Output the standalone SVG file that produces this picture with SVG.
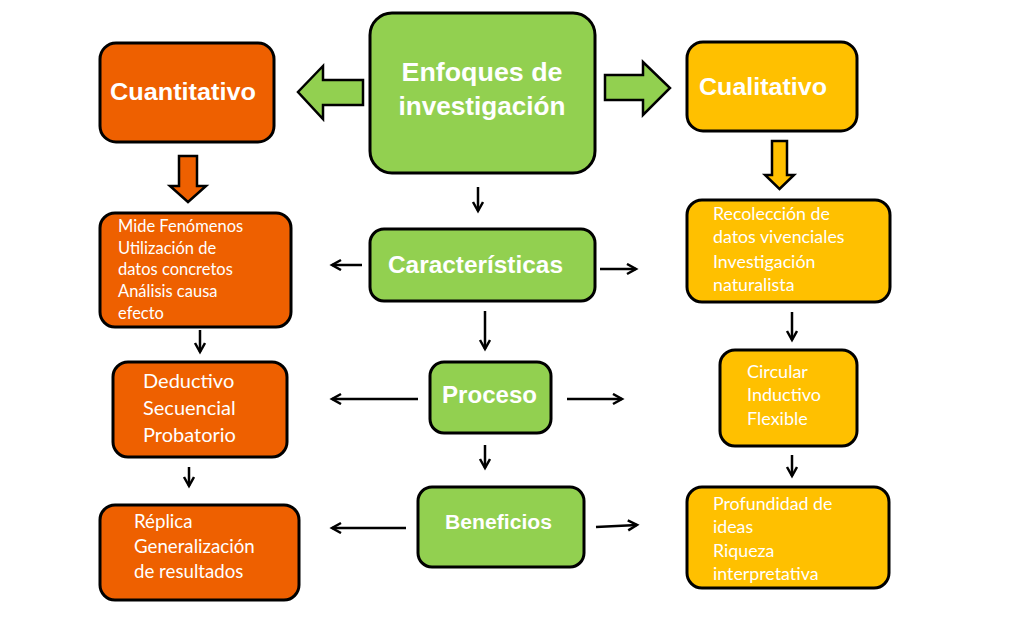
<svg xmlns="http://www.w3.org/2000/svg" width="1020" height="630" viewBox="0 0 1020 630">
<defs>
<style>
.box{stroke:#000;stroke-width:3}
.or{fill:#EE6000}
.gr{fill:#92D050}
.ye{fill:#FFC000}
.blk{stroke:#000;stroke-width:2.5}
.title{font-family:"Liberation Sans",Arial,sans-serif;font-weight:bold;fill:#fff;text-anchor:middle}
.body{font-family:Lato,"Liberation Sans",sans-serif;fill:#fff}
.ln{stroke:#000;stroke-width:2.5;fill:none;marker-end:url(#ah)}
</style>
<marker id="ah" markerUnits="userSpaceOnUse" markerWidth="14" markerHeight="14" refX="11" refY="6" orient="auto">
<path d="M2,1 L11,6 L2,11" fill="none" stroke="#000" stroke-width="2.5"/>
</marker>
</defs>
<rect width="1020" height="630" fill="#fff"/>

<g id="enfoques">
<rect class="box gr" x="370" y="13" width="225" height="160" rx="22"/>
<text class="title" x="482" y="81" font-size="26" textLength="161" lengthAdjust="spacingAndGlyphs">Enfoques de</text>
<text class="title" x="482" y="115" font-size="26" textLength="167" lengthAdjust="spacingAndGlyphs">investigación</text>
</g>
<g id="cuantitativo">
<rect class="box or" x="100" y="43" width="174" height="99" rx="16"/>
<text class="title" x="183" y="100" font-size="23" textLength="146" lengthAdjust="spacingAndGlyphs">Cuantitativo</text>
</g>
<g id="cualitativo">
<rect class="box ye" x="687" y="42" width="170" height="89" rx="16"/>
<text class="title" x="763" y="95" font-size="23" textLength="128" lengthAdjust="spacingAndGlyphs">Cualitativo</text>
</g>
<g id="caracteristicas">
<rect class="box gr" x="370" y="229" width="225" height="72" rx="14"/>
<text class="title" x="475.5" y="273" font-size="23" textLength="175" lengthAdjust="spacingAndGlyphs">Características</text>
</g>
<g id="proceso">
<rect class="box gr" x="430" y="362" width="121" height="71" rx="14"/>
<text class="title" x="489.5" y="403" font-size="23" textLength="95" lengthAdjust="spacingAndGlyphs">Proceso</text>
</g>
<g id="beneficios">
<rect class="box gr" x="418" y="487" width="166" height="80" rx="14"/>
<text class="title" x="498.5" y="529" font-size="20" textLength="107" lengthAdjust="spacingAndGlyphs">Beneficios</text>
</g>
<g id="mide">
<rect class="box or" x="100" y="213" width="191" height="114" rx="15"/>
<text class="body" x="118" y="232" font-size="16.5">Mide Fenómenos</text>
<text class="body" x="118" y="253.5" font-size="16.5">Utilización de</text>
<text class="body" x="118" y="275" font-size="16.5">datos concretos</text>
<text class="body" x="118" y="297" font-size="16.5">Análisis  causa</text>
<text class="body" x="118" y="319" font-size="16.5">efecto</text>
</g>
<g id="deductivo">
<rect class="box or" x="113" y="362" width="174" height="95" rx="15"/>
<text class="body" x="143" y="388" font-size="20">Deductivo</text>
<text class="body" x="143" y="415" font-size="20">Secuencial</text>
<text class="body" x="143" y="442" font-size="20">Probatorio</text>
</g>
<g id="replica">
<rect class="box or" x="100" y="505" width="199" height="95" rx="15"/>
<text class="body" x="134" y="528" font-size="18.7">Réplica</text>
<text class="body" x="134" y="553" font-size="18.7">Generalización</text>
<text class="body" x="134" y="578" font-size="18.7">de resultados</text>
</g>
<g id="recoleccion">
<rect class="box ye" x="687" y="200" width="203" height="102" rx="15"/>
<text class="body" x="713" y="220" font-size="17.8">Recolección de</text>
<text class="body" x="713" y="243" font-size="17.8">datos vivenciales</text>
<text class="body" x="713" y="268" font-size="17.8">Investigación</text>
<text class="body" x="713" y="291" font-size="17.8">naturalista</text>
</g>
<g id="circular">
<rect class="box ye" x="720" y="350" width="137" height="96" rx="15"/>
<text class="body" x="747" y="378" font-size="18">Circular</text>
<text class="body" x="747" y="401" font-size="18">Inductivo</text>
<text class="body" x="747" y="425" font-size="18">Flexible</text>
</g>
<g id="profundidad">
<rect class="box ye" x="687" y="487" width="202" height="101" rx="15"/>
<text class="body" x="713" y="510" font-size="17.8">Profundidad de</text>
<text class="body" x="713" y="533" font-size="17.8">ideas</text>
<text class="body" x="713" y="557" font-size="17.8">Riqueza</text>
<text class="body" x="713" y="580" font-size="17.8">interpretativa</text>
</g>

<g id="connectors">
<polygon class="blk gr" points="363,80 323,80 323,66 298,92 323,119 323,105 363,105"/>
<polygon class="blk gr" points="605,75 643,75 643,62 670,88 643,115 643,100 605,100"/>
<polygon class="blk or" points="179,156 197,156 197,186 206,186 188,202 170,186 179,186"/>
<polygon class="blk ye" points="772,141 787,141 787,175 794,175 779.5,189 765,175 772,175"/>
<path class="ln" d="M478,187 L478,211"/>
<path class="ln" d="M362,265 L332,265"/>
<path class="ln" d="M600,269 L636,269"/>
<path class="ln" d="M485,311 L485,349"/>
<path class="ln" d="M418,399 L332,399"/>
<path class="ln" d="M567,399 L622,399"/>
<path class="ln" d="M485,445 L485,468"/>
<path class="ln" d="M406,528 L332,528"/>
<path class="ln" d="M596,527 L637,525"/>
<path class="ln" d="M200,330 L200,352"/>
<path class="ln" d="M189,467 L189,486"/>
<path class="ln" d="M792,312 L792,340"/>
<path class="ln" d="M792,455 L792,476"/>
</g>
</svg>
